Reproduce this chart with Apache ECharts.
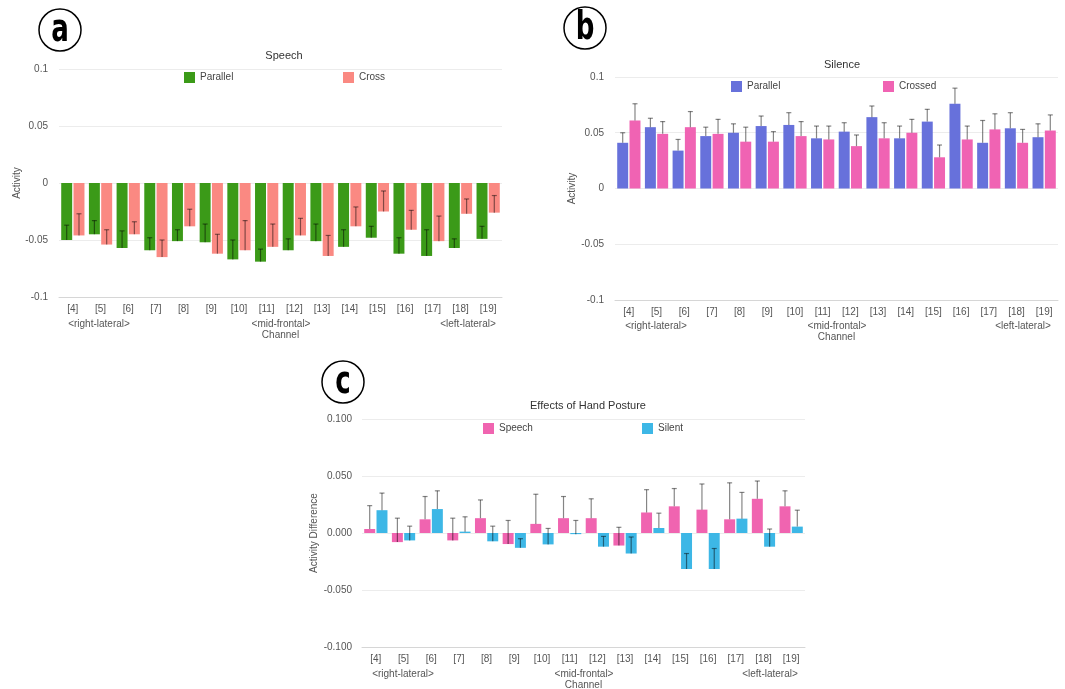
<!DOCTYPE html>
<html>
<head>
<meta charset="utf-8">
<script src="https://cdn.jsdelivr.net/npm/echarts@6/dist/echarts.min.js"></script>
<style>
  body { margin: 0; background: #fff; }
  .panel { position: absolute; }
</style>
</head>
<body>
<div id="chartA" class="panel" style="left:0;top:0;width:540px;height:345px"></div>
<div id="chartB" class="panel" style="left:540px;top:0;width:525px;height:345px"></div>
<div id="chartC" class="panel" style="left:290px;top:360px;width:540px;height:329px"></div>
<script>
// channels on the x axis
const channels = ['[4]', '[5]', '[6]', '[7]', '[8]', '[9]', '[10]', '[11]', '[12]', '[13]', '[14]', '[15]', '[16]', '[17]', '[18]', '[19]']
const regionLabels = ['<right-lateral>', '<mid-frontal>', '<left-lateral>']

// (a) Speech
const speechParallel = [-0.050, -0.045, -0.057, -0.059, -0.051, -0.052, -0.067, -0.069, -0.059, -0.051, -0.056, -0.048, -0.062, -0.064, -0.057, -0.049]
const speechParallelErr = [0.013, 0.012, 0.015, 0.011, 0.010, 0.016, 0.017, 0.011, 0.010, 0.015, 0.015, 0.010, 0.014, 0.023, 0.008, 0.011]
const speechCross = [-0.046, -0.054, -0.045, -0.065, -0.038, -0.062, -0.059, -0.056, -0.046, -0.064, -0.038, -0.025, -0.041, -0.051, -0.027, -0.026]
const speechCrossErr = [0.019, 0.013, 0.011, 0.015, 0.015, 0.017, 0.026, 0.020, 0.015, 0.018, 0.017, 0.018, 0.017, 0.022, 0.013, 0.015]

// (b) Silence
const silenceParallel = [0.041, 0.055, 0.034, 0.047, 0.050, 0.056, 0.057, 0.045, 0.051, 0.064, 0.045, 0.060, 0.076, 0.041, 0.054, 0.046]
const silenceParallelErr = [0.009, 0.008, 0.010, 0.008, 0.008, 0.009, 0.011, 0.011, 0.008, 0.010, 0.011, 0.011, 0.014, 0.020, 0.014, 0.012]
const silenceCrossed = [0.061, 0.049, 0.055, 0.049, 0.042, 0.042, 0.047, 0.044, 0.038, 0.045, 0.050, 0.028, 0.044, 0.053, 0.041, 0.052]
const silenceCrossedErr = [0.015, 0.011, 0.014, 0.013, 0.013, 0.009, 0.013, 0.012, 0.010, 0.014, 0.012, 0.011, 0.012, 0.014, 0.012, 0.014]

// (c) Effects of Hand Posture
const postureSpeech = [0.0035, -0.008, 0.012, -0.0065, 0.013, -0.0097, 0.008, 0.013, 0.013, -0.011, 0.018, 0.0234, 0.0205, 0.012, 0.030, 0.0234]
const postureSpeechErr = [0.0205, 0.021, 0.020, 0.0195, 0.016, 0.0207, 0.026, 0.019, 0.017, 0.016, 0.020, 0.0156, 0.0225, 0.032, 0.0156, 0.0136]
const postureSilent = [0.020, -0.0065, 0.021, 0.0012, -0.0073, -0.013, -0.010, -0.001, -0.012, -0.018, 0.0044, -0.0316, -0.0316, 0.0126, -0.012, 0.0056]
const postureSilentErr = [0.015, 0.0125, 0.016, 0.013, 0.0133, 0.008, 0.014, 0.012, 0.009, 0.0145, 0.013, 0.0136, 0.018, 0.023, 0.0155, 0.0144]

const FONT = 'Liberation Sans, Arial, sans-serif'
const CAT_GAP = 0.16
const BAR_GAP = 0.12

// draws an error stick from the bar end up to value + err, with a small cap
function errorRenderer(k) {
  return function (params, api) {
    const i = api.value(0)
    const bandW = api.size([1, 0])[0]
    const remained = bandW * (1 - CAT_GAP)
    const w = remained / (2 + BAR_GAP)
    const off = -remained / 2 + k * w * (1 + BAR_GAP) + w / 2
    const p0 = api.coord([i, api.value(1)])
    const p1 = api.coord([i, api.value(2)])
    const x = p0[0] + off
    const style = { stroke: 'rgba(0,0,0,0.48)', lineWidth: 1.2 }
    return {
      type: 'group',
      children: [
        { type: 'line', shape: { x1: x, y1: p0[1], x2: x, y2: p1[1] }, style },
        { type: 'line', shape: { x1: x - 2.5, y1: p1[1], x2: x + 2.5, y2: p1[1] }, style },
      ],
    }
  }
}

function makeOption(cfg) {
  const series = []
  cfg.names.forEach((name, k) => {
    series.push({
      name,
      type: 'bar',
      data: cfg.values[k],
      itemStyle: { color: cfg.colors[k] },
      barCategoryGap: CAT_GAP * 100 + '%',
      barGap: BAR_GAP * 100 + '%',
    })
  })
  cfg.names.forEach((name, k) => {
    series.push({
      type: 'custom',
      renderItem: errorRenderer(k),
      encode: { x: 0, y: [1, 2] },
      z: 5,
      silent: true,
      data: channels.map((c, i) => [i, cfg.values[k][i], +(cfg.values[k][i] + cfg.errs[k][i]).toFixed(4)]),
    })
  })
  const graphic = [
    {
      type: 'circle',
      shape: { cx: cfg.letterPos[0], cy: cfg.letterPos[1], r: 21 },
      style: { fill: '#fff', stroke: '#000', lineWidth: 1.5 },
    },
    {
      type: 'text',
      x: cfg.letterPos[0],
      y: cfg.letterPos[1] + 1,
      scaleY: 1.35,
      style: {
        text: cfg.letter,
        fill: '#000',
        font: 'bold 29px "DejaVu Sans Condensed", "DejaVu Sans", sans-serif',
        align: 'center',
        verticalAlign: 'middle',
      },
    },
  ]
  regionLabels.forEach((t, j) => {
    graphic.push({
      type: 'text',
      x: cfg.regionX[j],
      y: cfg.regionY,
      style: { text: t, fill: '#555', font: '10px ' + FONT, align: 'center', verticalAlign: 'middle' },
    })
  })
  return {
    animation: false,
    title: {
      text: cfg.title,
      left: cfg.titlePos[0],
      top: cfg.titlePos[1],
      textAlign: 'center',
      textStyle: { fontSize: 11, fontWeight: 'normal', color: '#333', fontFamily: FONT },
    },
    legend: cfg.names.map((name, k) => ({
      data: [name],
      left: cfg.legendX[k],
      top: cfg.legendY,
      icon: 'rect',
      itemWidth: 11,
      itemHeight: 11,
      itemGap: 5,
      textStyle: { fontSize: 10, color: '#444', fontFamily: FONT },
      selectedMode: false,
    })),
    grid: Object.assign({ outerBoundsMode: 'none' }, cfg.grid),
    xAxis: {
      type: 'category',
      data: channels,
      name: 'Channel',
      nameLocation: 'middle',
      nameGap: cfg.nameGapX,
      nameMoveOverlap: false,
      nameTextStyle: { fontSize: 10, color: '#555', fontFamily: FONT },
      axisTick: { show: false },
      axisLine: { onZero: false, lineStyle: { color: '#d6d6d6' } },
      axisLabel: { color: '#555', fontSize: 10, margin: 7, fontFamily: FONT, interval: 0 },
    },
    yAxis: {
      type: 'value',
      min: -0.1,
      max: 0.1,
      interval: 0.05,
      name: cfg.yName,
      nameLocation: 'middle',
      nameRotate: 90,
      nameGap: cfg.nameGapY,
      nameMoveOverlap: false,
      nameTextStyle: { fontSize: 10, color: '#555', fontFamily: FONT },
      axisLine: { show: false },
      axisTick: { show: false },
      splitLine: { lineStyle: { color: '#ececec' } },
      axisLabel: { color: '#555', fontSize: 10, margin: cfg.yMargin, fontFamily: FONT, formatter: cfg.yFmt },
    },
    graphic,
    series,
  }
}

const chartA = echarts.init(document.getElementById('chartA'))
chartA.setOption(makeOption({
  title: 'Speech',
  titlePos: [279, 45],
  names: ['Parallel', 'Cross'],
  colors: ['#3b9a18', '#fa8982'],
  values: [speechParallel, speechCross],
  errs: [speechParallelErr, speechCrossErr],
  legendX: [179, 338],
  legendY: 67,
  grid: { left: 59, right: 38, top: 69, bottom: 48 },
  yName: 'Activity',
  nameGapY: 37,
  nameGapX: 33,
  yMargin: 11,
  regionX: [99, 281, 468],
  regionY: 324,
  letter: 'a',
  letterPos: [60, 30],
}))

const chartB = echarts.init(document.getElementById('chartB'))
chartB.setOption(makeOption({
  title: 'Silence',
  titlePos: [297, 54],
  names: ['Parallel', 'Crossed'],
  colors: ['#6771db', '#f063b3'],
  values: [silenceParallel, silenceCrossed],
  errs: [silenceParallelErr, silenceCrossedErr],
  legendX: [186, 338],
  legendY: 76,
  grid: { left: 75, right: 7, top: 77, bottom: 45 },
  yName: 'Activity',
  nameGapY: 38,
  nameGapX: 32,
  yMargin: 11,
  regionX: [116, 297, 483],
  regionY: 326,
  letter: 'b',
  letterPos: [45, 28],
}))

const chartC = echarts.init(document.getElementById('chartC'))
chartC.setOption(makeOption({
  title: 'Effects of Hand Posture',
  titlePos: [293, 35],
  names: ['Speech', 'Silent'],
  colors: ['#f064b0', '#3db7e6'],
  values: [postureSpeech, postureSilent],
  errs: [postureSpeechErr, postureSilentErr],
  legendX: [188, 347],
  legendY: 58,
  grid: { left: 72, right: 25, top: 59, bottom: 42 },
  yName: 'Activity Difference',
  nameGapY: 43,
  nameGapX: 33,
  yMargin: 10,
  yFmt: (v) => v.toFixed(3),
  regionX: [113, 294, 480],
  regionY: 314,
  letter: 'c',
  letterPos: [53, 22],
}))

window.addEventListener('resize', () => {
  chartA.resize()
  chartB.resize()
  chartC.resize()
})
</script>
</body>
</html>
